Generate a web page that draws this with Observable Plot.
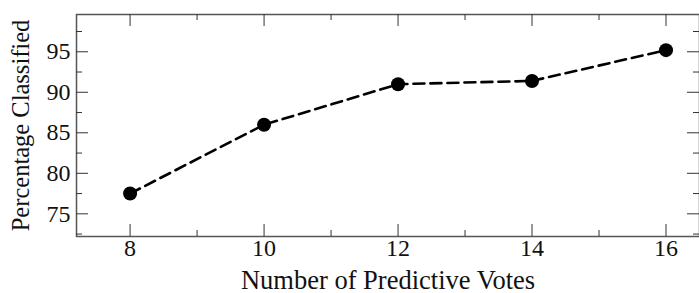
<!DOCTYPE html>
<html>
<head>
<meta charset="utf-8">
<script src="https://cdn.jsdelivr.net/npm/d3@7"></script>
<script src="https://cdn.jsdelivr.net/npm/@observablehq/plot@0.6"></script>
<style>
  body { margin: 0; background: #fff; }
</style>
</head>
<body>
<div id="chart"></div>
<script>
const votes = [8, 10, 12, 14, 16];
const percentClassified = [77.5, 86.0, 91.0, 91.4, 95.2];
const xMajorTicks = [8, 10, 12, 14, 16];
const xMinorTicks = [9, 11, 13, 15];
const yMajorTicks = [75, 80, 85, 90, 95];
const yMinorTicks = [72.5, 77.5, 82.5, 87.5, 92.5, 97.5];

const data = votes.map((v, i) => ({votes: v, pct: percentClassified[i]}));

const W = 699, H = 293, mL = 76, mR = 0, mT = 14, mB = 57;
const iW = W - mL - mR, iH = H - mT - mB;
const major = 12, minor = 6;
const tickColor = "#333";

const chart = Plot.plot({
  width: W, height: H,
  marginLeft: mL, marginRight: mR, marginTop: mT, marginBottom: mB,
  style: {fontFamily: "'Liberation Serif', 'Times New Roman', serif", background: "#fff", color: "#111"},
  x: {domain: [7.2, 16.5], axis: null},
  y: {domain: [72.2, 99.6], axis: null},
  marks: [
    Plot.frame({stroke: "#555", strokeWidth: 1.5}),
    Plot.ruleX(xMajorTicks, {insetTop: iH - major, stroke: tickColor}),
    Plot.ruleX(xMinorTicks, {insetTop: iH - minor, stroke: tickColor}),
    Plot.ruleX(xMajorTicks, {insetBottom: iH - major, stroke: tickColor}),
    Plot.ruleX(xMinorTicks, {insetBottom: iH - minor, stroke: tickColor}),
    Plot.ruleY(yMajorTicks, {insetRight: iW - major, stroke: tickColor}),
    Plot.ruleY(yMinorTicks, {insetRight: iW - minor, stroke: tickColor}),
    Plot.ruleY(yMajorTicks, {insetLeft: iW - major, stroke: tickColor}),
    Plot.ruleY(yMinorTicks, {insetLeft: iW - minor, stroke: tickColor}),
    Plot.text(xMajorTicks, {x: d => d, frameAnchor: "bottom", dy: 19, fontSize: 24, text: d => String(d)}),
    Plot.text(yMajorTicks, {y: d => d, frameAnchor: "left", dx: -6, textAnchor: "end", fontSize: 24, text: d => String(d)}),
    Plot.text(["Number of Predictive Votes"], {frameAnchor: "bottom", dy: 52, fontSize: 26.5, lineAnchor: "bottom", text: d => d}),
    Plot.text(["Percentage Classified"], {frameAnchor: "left", dx: -55, rotate: -90, textAnchor: "middle", fontSize: 24.5, text: d => d}),
    Plot.line(data, {x: "votes", y: "pct", stroke: "#000", strokeWidth: 2.6, strokeDasharray: "11,6"}),
    Plot.dot(data, {x: "votes", y: "pct", r: 7, fill: "#000", stroke: "none"})
  ]
});
document.getElementById("chart").appendChild(chart);
</script>
</body>
</html>
